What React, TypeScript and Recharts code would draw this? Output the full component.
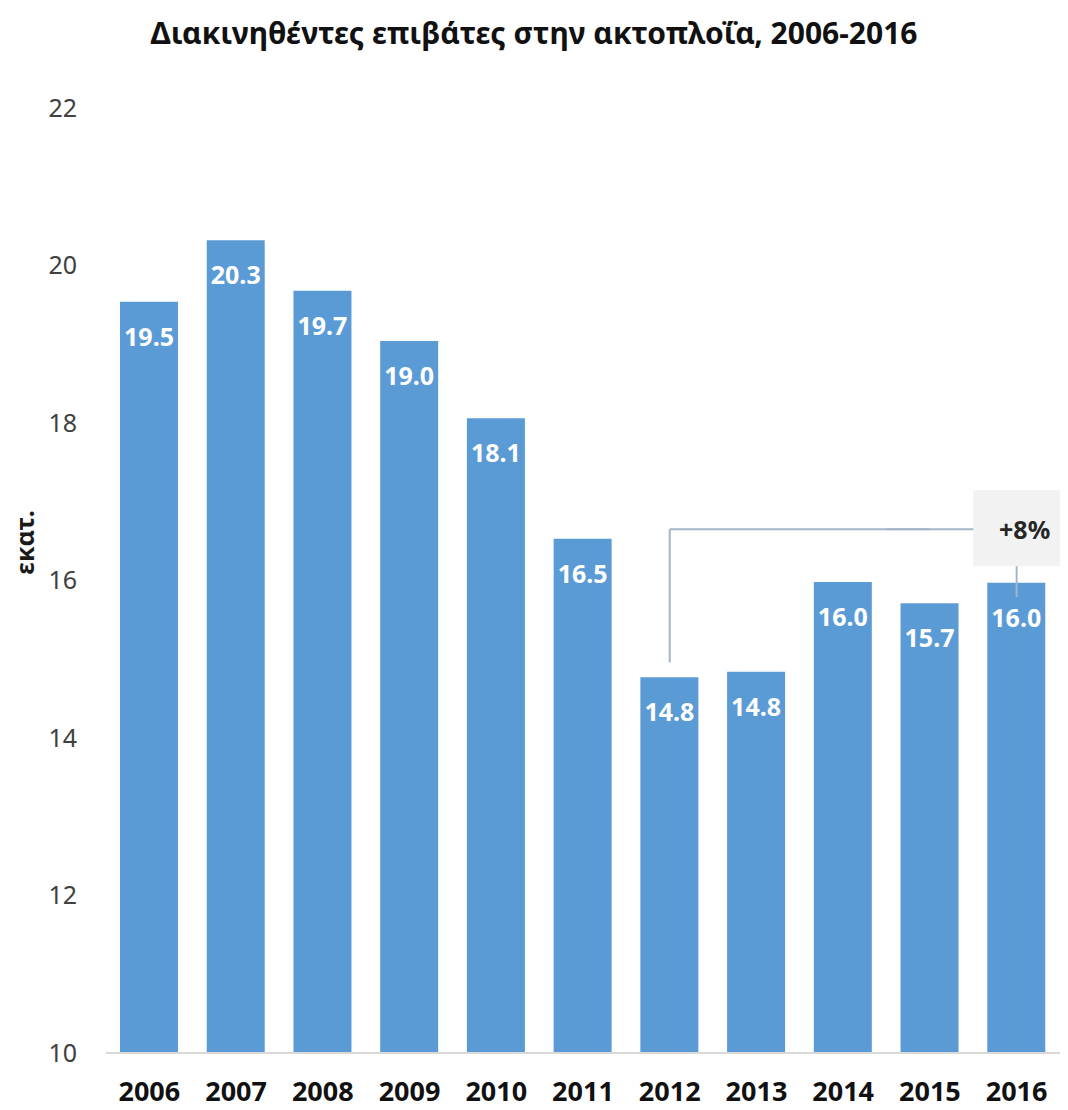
import React from 'react';
import { BarChart, Bar, XAxis, YAxis, LabelList, ReferenceLine, ReferenceArea } from 'recharts';

const years = ['2006', '2007', '2008', '2009', '2010', '2011', '2012', '2013', '2014', '2015', '2016'];
const passengers = [19.54, 20.32, 19.68, 19.04, 18.06, 16.53, 14.77, 14.84, 15.98, 15.71, 15.97];
const yTicks = [10, 12, 14, 16, 18, 20, 22];
const titleText = 'Διακινηθέντες επιβάτες στην ακτοπλοΐα, 2006-2016';
const unitLabel = 'εκατ.';
const changeLabel = '+8%';
const changeFrom = '2012';
const changeBefore = '2015';
const changeTo = '2016';

const data = years.map((y, i) => ({ year: y, value: passengers[i] }));

const FONT = '"Noto Sans", "Open Sans", sans-serif';
const BAR = '#5b9bd5';
const CONNECTOR = '#a3b6c9';

const BarValue = (props: any) => {
  const { x, y, width, value } = props;
  return (
    <text
      x={x + width / 2}
      y={y + 34}
      textAnchor="middle"
      dominantBaseline="central"
      fill="#ffffff"
      fontFamily={FONT}
      fontWeight={700}
      fontSize={25}
    >
      {Number(value).toFixed(1)}
    </text>
  );
};

const UnitLabel = (props: any) => {
  const { viewBox } = props;
  const cx = viewBox.x + 24;
  const cy = viewBox.y + viewBox.height / 2 - 38;
  return (
    <text
      x={cx}
      y={cy}
      transform={`rotate(-90 ${cx} ${cy})`}
      textAnchor="middle"
      dominantBaseline="central"
      fontFamily={FONT}
      fontWeight={700}
      fontSize={25}
      fill="#1a1a1a"
    >
      {unitLabel}
    </text>
  );
};

const ChangeLabel = (props: any) => {
  const { viewBox } = props;
  const cx = viewBox.x + viewBox.width / 2 + 8;
  const cy = viewBox.y + viewBox.height / 2 + 1;
  return (
    <text
      x={cx}
      y={cy}
      textAnchor="middle"
      dominantBaseline="central"
      fontFamily={FONT}
      fontWeight={700}
      fontSize={25}
      fill="#262626"
    >
      {changeLabel}
    </text>
  );
};

export default function App() {
  return (
    <div style={{ position: 'absolute', left: 0, top: 0, width: 1068, height: 1110, background: '#ffffff' }}>
      <div
        style={{
          position: 'absolute',
          top: 12,
          left: 0,
          width: 1068,
          textAlign: 'center',
          fontFamily: FONT,
          fontWeight: 700,
          fontSize: 30,
          color: '#111111',
          lineHeight: '42px',
          whiteSpace: 'nowrap',
        }}
      >
        {titleText}
      </div>
      <BarChart
        width={1068}
        height={1110}
        data={data}
        margin={{ top: 108, right: 8, bottom: 0, left: 0 }}
        barSize={58}
      >
        <XAxis
          dataKey="year"
          height={57}
          tickLine={false}
          tickSize={0}
          tickMargin={29}
          axisLine={{ stroke: '#d9d9d9', strokeWidth: 2 }}
          tick={{ fontFamily: FONT, fontWeight: 700, fontSize: 27, fill: '#111111' }}
          interval={0}
        />
        <YAxis
          width={106}
          domain={[10, 22]}
          ticks={yTicks}
          axisLine={false}
          tickLine={false}
          tickSize={0}
          tickMargin={29}
          tick={{ fontFamily: FONT, fontSize: 25, fill: '#404040' }}
          label={<UnitLabel />}
        />
        <Bar dataKey="value" fill={BAR} isAnimationActive={false}>
          <LabelList dataKey="value" content={<BarValue />} />
        </Bar>
        <ReferenceLine
          segment={[{ x: changeFrom, y: 14.96 }, { x: changeFrom, y: 16.65 }]}
          stroke={CONNECTOR}
          strokeWidth={2}
        />
        <ReferenceLine
          segment={[{ x: changeFrom, y: 16.65 }, { x: changeBefore, y: 16.65 }]}
          stroke={CONNECTOR}
          strokeWidth={2}
        />
        <ReferenceLine
          segment={[{ x: changeBefore, y: 16.65 }, { x: changeTo, y: 16.65 }]}
          position="start"
          stroke={CONNECTOR}
          strokeWidth={2}
        />
        <ReferenceLine
          segment={[{ x: changeTo, y: 16.18 }, { x: changeTo, y: 15.79 }]}
          stroke={CONNECTOR}
          strokeWidth={2}
        />
        <ReferenceArea
          x1={changeTo}
          x2={changeTo}
          y1={16.18}
          y2={17.15}
          fill="#f2f2f2"
          fillOpacity={1}
          stroke="none"
          label={<ChangeLabel />}
        />
      </BarChart>
    </div>
  );
}
